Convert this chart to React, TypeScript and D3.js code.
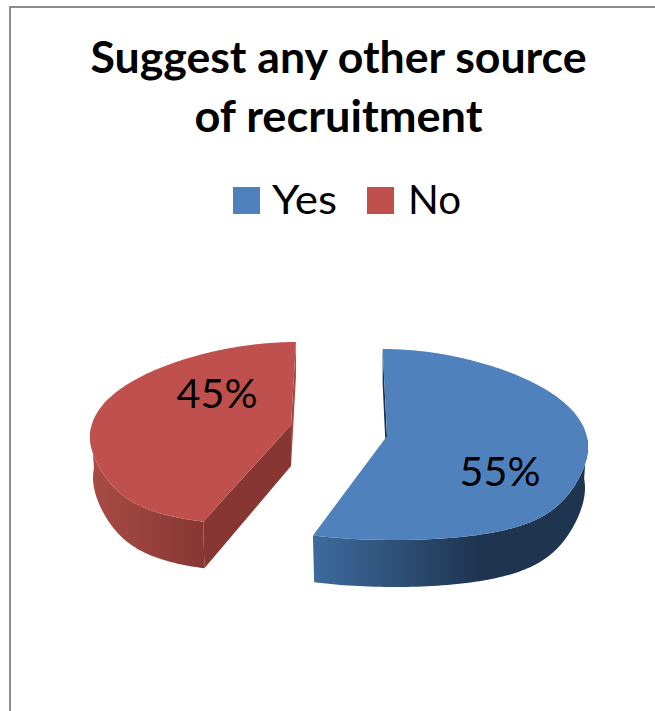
import React from "react";
import * as d3 from "d3";

const categories = ["Yes", "No"];
const shares = [55, 45];
const topColors = ["#4f81bd", "#c0504d"];
const wallLight = ["#3d6b9e", "#a84c45"];
const wallDark = ["#1f344f", "#873634"];
const sliverColors = ["#1c3350", "#a8463f"];
const titleLines = ["Suggest any other source", "of recruitment"];

const WIDTH = 655;
const HEIGHT = 711;

// Where each exploded slice sits on screen: its point, the middle of its rim ellipse,
// and how far that rim reaches back and forward.
const hubs = [
  { x: 387, y: 436, midY: 447, farRy: 98, nearRy: 93 },
  { x: 291, y: 425, midY: 437, farRy: 95, nearRy: 89 },
];
const VANISH_X = 342;
const RADIUS = 201;

type Pt = [number, number];
type Hub = (typeof hubs)[number];

// Tilted-disc projection: points nearer the viewer spread away from the vanishing column.
function project(hub: Hub, angle: number, r: number, drop: number): Pt {
  const depth = -Math.cos(angle);
  const d3rd = depth * depth * depth;
  const s = depth >= 0 ? 1 + 0.166 * d3rd : 1 + 0.097 * d3rd;
  const k = 1 + 0.156 * Math.max(d3rd, 0);
  const x = VANISH_X + (hub.x - VANISH_X + r * Math.sin(angle) * k) * s;
  const ry = depth >= 0 ? hub.nearRy : hub.farRy;
  return [x, hub.midY + ry * depth + drop];
}

const dropAt = (angle: number) => 41 + 6 * -Math.cos(angle);

const pieGen = d3.pie<number>().sort(null);
const arcs = pieGen(shares);
const outline = d3.line<Pt>().curve(d3.curveLinear);

function samples(a0: number, a1: number): number[] {
  const n = Math.max(2, Math.ceil(Math.abs(a1 - a0) / 0.02));
  return d3.range(n + 1).map((i) => a0 + ((a1 - a0) * i) / n);
}

export default function App() {
  return (
    <svg
      width={WIDTH}
      height={HEIGHT}
      viewBox={`0 0 ${WIDTH} ${HEIGHT}`}
      style={{ position: "absolute", left: 0, top: 0, background: "#fff" }}
      fontFamily="Lato, 'Noto Sans', sans-serif"
    >
      <defs>
        {categories.map((c, i) => {
          const end = i === 0 ? 480 : 205;
          const start = i === 0 ? 313 : 92;
          return (
            <linearGradient key={c} id={`wall-${i}`} gradientUnits="userSpaceOnUse" x1={start} x2={end} y1={0} y2={0}>
              <stop offset="0" stopColor={wallLight[i]} />
              <stop offset="1" stopColor={wallDark[i]} />
            </linearGradient>
          );
        })}
      </defs>

      <path d={`M10,${HEIGHT}V7H${WIDTH}`} fill="none" stroke="#8c8c8c" strokeWidth={2} />

      {titleLines.map((line, i) => (
        <text
          key={line}
          x={338.5}
          y={73 + i * 59}
          textAnchor="middle"
          fontSize={44}
          fontWeight={700}
          fill="#000"
          textLength={i === 0 ? 496 : 288}
          lengthAdjust="spacingAndGlyphs"
        >
          {line}
        </text>
      ))}

      {categories.map((c, i) => (
        <g key={c}>
          <rect x={i === 0 ? 233 : 367} y={187} width={27} height={27} fill={topColors[i]} />
          <text
            x={i === 0 ? 272 : 408}
            y={214}
            fontSize={40}
            fill="#000"
            textLength={i === 0 ? 65 : 53}
            lengthAdjust="spacingAndGlyphs"
          >
            {c}
          </text>
        </g>
      ))}

      {arcs.map((arc, i) => {
        const hub = hubs[i];
        const angles = samples(arc.startAngle, arc.endAngle);
        const topRim = angles.map((a) => project(hub, a, RADIUS, 0));
        const lowerR = RADIUS * 0.985;
        const near = angles.filter((a) => Math.cos(a) < 0.1);
        const outerWall: Pt[] = [
          ...near.map((a) => project(hub, a, RADIUS, 0)),
          ...near.slice().reverse().map((a) => project(hub, a, lowerR, dropAt(a))),
        ];
        const hubPt: Pt = [hub.x, hub.y];
        const hubLow: Pt = [hub.x, hub.y + 41];
        const face = (a: number): Pt[] => [
          hubPt,
          project(hub, a, RADIUS, 0),
          project(hub, a, lowerR, dropAt(a)),
          hubLow,
        ];
        const top: Pt[] = [hubPt, ...topRim];
        return (
          <g key={categories[i]}>
            {i === 1 && <path d={outline(face(arc.endAngle))! + "Z"} fill={sliverColors[i]} />}
            <path d={outline(face(arc.startAngle))! + "Z"} fill={i === 0 ? sliverColors[i] : wallDark[i]} />
            <path d={outline(outerWall)! + "Z"} fill={`url(#wall-${i})`} />
            <path d={outline(top)! + "Z"} fill={topColors[i]} />
          </g>
        );
      })}

      {arcs.map((arc, i) => (
        <text
          key={categories[i]}
          x={i === 0 ? 500 : 217}
          y={i === 0 ? 486 : 408}
          textAnchor="middle"
          fontSize={41}
          fill="#000"
          textLength={81}
          lengthAdjust="spacingAndGlyphs"
        >
          {`${arc.data}%`}
        </text>
      ))}
    </svg>
  );
}
